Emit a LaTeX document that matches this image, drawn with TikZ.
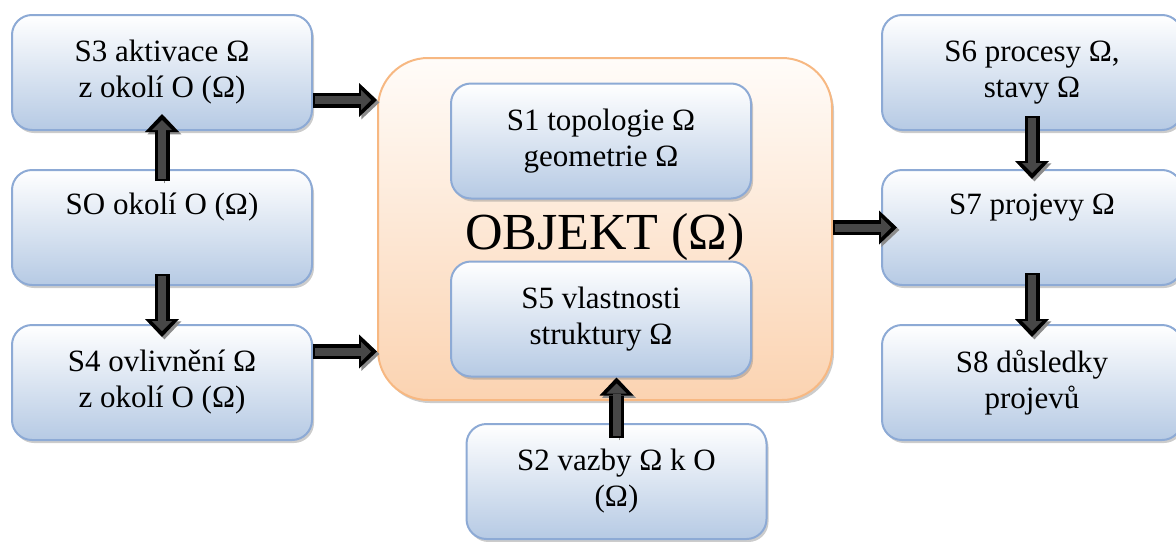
\documentclass[tikz,border=0pt]{standalone}
\usepackage{fontspec}
\setmainfont{LiberationSerif}[Extension=.ttf, UprightFont=*-Regular, BoldFont=*-Bold, ItalicFont=*-Italic, BoldItalicFont=*-BoldItalic]
\usepackage{tikz}
\usetikzlibrary{arrows.meta, shadows}
\definecolor{boxblue}{RGB}{182, 202, 228}
\definecolor{edgeblue}{RGB}{141, 170, 213}
\definecolor{objpeach}{RGB}{251, 211, 177}
\definecolor{objtop}{RGB}{255, 252, 249}
\definecolor{edgeorange}{RGB}{247, 184, 130}

\tikzset{
  stepbox/.style={draw=edgeblue, line width=1pt, rounded corners=10pt,
    top color=white, bottom color=boxblue, align=center,
    minimum width=150pt, minimum height=57.5pt,
    font=\fontsize{15.5}{18}\selectfont,
    drop shadow={shadow xshift=1pt, shadow yshift=-1.5pt, opacity=0.4}},
  fatarrow/.style={line width=7.5pt, draw=black,
    -{Triangle[width=17pt, length=9pt, line width=0pt]},
    preaction={draw=black!45, transform canvas={shift={(1.2pt,-1.2pt)}}},
    postaction={draw=black!72, line width=4pt, shorten <=1.2pt, shorten >=3pt,
      -{Triangle[width=10pt, length=5pt, line width=0pt]}}}
}

\begin{document}
\begin{tikzpicture}[x=0.5pt, y=-0.5pt]
  \useasboundingbox (0,0) rectangle (1176,541);

  % The object
  \node[draw=edgeorange, line width=1pt, rounded corners=25pt, top color=objtop, bottom color=objpeach,
    minimum width=227pt, minimum height=171pt,
    drop shadow={shadow xshift=1pt, shadow yshift=-1.5pt, opacity=0.4}] (objekt) at (605, 229) {};
  \node[font=\fontsize{26}{30}\selectfont] (objlabel) at (605, 237) {OBJEKT (Ω)};
  \node[stepbox] (s1) at (601, 141) {S1 topologie Ω\\geometrie Ω};
  \node[stepbox] (s5) at (601, 319) {S5 vlastnosti\\struktury Ω};
  \node[stepbox] (s2) at (616.5, 481.5) {S2 vazby Ω k O\\(Ω)};

  % Surroundings
  \node[stepbox] (s3) at (162, 72.5) {S3 aktivace Ω\\z okolí O (Ω)};
  \node[stepbox] (so) at (162, 227.5) {SO okolí O (Ω)\\\strut};
  \node[stepbox] (s4) at (162, 382.5) {S4 ovlivnění Ω\\z okolí O (Ω)};

  % Processes and outcomes
  \node[stepbox] (s6) at (1032, 72.5) {S6 procesy Ω,\\stavy Ω};
  \node[stepbox] (s7) at (1032, 227.5) {S7 projevy Ω\\\strut};
  \node[stepbox] (s8) at (1032, 382.5) {S8 důsledky\\projevů};

  % Arrows
  \draw[fatarrow] ([yshift=-6pt]so.north) -- ([yshift=8.5pt]s3.south);
  \draw[fatarrow] ([yshift=6pt]so.south) -- ([yshift=-6.5pt]s4.north);
  \draw[fatarrow] ([yshift=-13.75pt]s3.east) -- ([yshift=-13.75pt]s3.east -| objekt.west);
  \draw[fatarrow] ([yshift=15.5pt]s4.east) -- ([yshift=15.5pt]s4.east -| objekt.west);
  \draw[fatarrow] ([yshift=-7.5pt]s2.north) -- (s2.north |- s5.south);
  \draw[fatarrow] (objekt.east |- s7.west) -- ([xshift=8pt]s7.west);
  \draw[fatarrow] ([yshift=7.5pt]s6.south) -- ([yshift=-5pt]s7.north);
  \draw[fatarrow] ([yshift=6.5pt]s7.south) -- ([yshift=-6.5pt]s8.north);
\end{tikzpicture}
\end{document}
